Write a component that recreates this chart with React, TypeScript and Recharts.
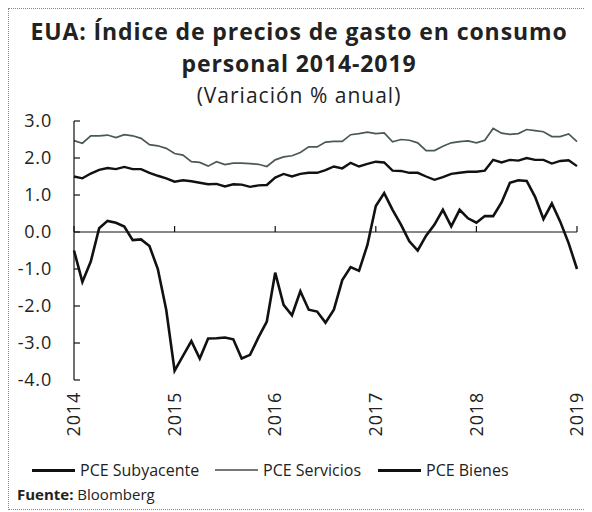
import { LineChart, Line, XAxis, YAxis, ReferenceLine } from "recharts";

const yearLabels = ["2014", "2015", "2016", "2017", "2018", "2019"];
const yearTicks = [0, 12, 24, 36, 48, 60];
const yTicks = [3, 2, 1, 0, -1, -2, -3, -4];

// monthly, Jan-2014 .. Jan-2019
const subyacente = [
  1.5, 1.45, 1.58, 1.68, 1.73, 1.7, 1.76, 1.7, 1.7, 1.6,
  1.52, 1.45, 1.36, 1.4, 1.37, 1.33, 1.29, 1.3, 1.23, 1.29,
  1.28, 1.22, 1.26, 1.27, 1.47, 1.57, 1.5, 1.57, 1.6, 1.6,
  1.67, 1.77, 1.72, 1.87, 1.77, 1.84, 1.9, 1.88, 1.66, 1.65,
  1.6, 1.6, 1.5, 1.41, 1.48, 1.57, 1.6, 1.63, 1.63, 1.66,
  1.95, 1.88, 1.95, 1.93, 2.0, 1.95, 1.95, 1.85, 1.92, 1.94,
  1.78,
];

const servicios = [
  2.47, 2.4, 2.6, 2.6, 2.62, 2.55, 2.63, 2.6, 2.53, 2.36,
  2.33, 2.26, 2.12, 2.08, 1.9, 1.88, 1.78, 1.9, 1.82, 1.86,
  1.86, 1.85, 1.83, 1.77, 1.95, 2.03, 2.06, 2.15, 2.3, 2.3,
  2.43, 2.45, 2.45, 2.63, 2.66, 2.7, 2.66, 2.68, 2.44, 2.5,
  2.48, 2.41, 2.2, 2.2, 2.32, 2.41, 2.44, 2.46, 2.41, 2.48,
  2.8, 2.67, 2.64, 2.66, 2.77, 2.74, 2.71, 2.58, 2.58, 2.65,
  2.44,
];

const bienes = [
  -0.5, -1.35, -0.8, 0.1, 0.3, 0.25, 0.15, -0.22, -0.2, -0.38,
  -1.0, -2.1, -3.75, -3.35, -2.95, -3.42, -2.88, -2.87, -2.85, -2.9,
  -3.42, -3.32, -2.85, -2.42, -1.1, -1.97, -2.25, -1.6, -2.1, -2.15,
  -2.45, -2.1, -1.3, -0.95, -1.05, -0.35, 0.7, 1.05, 0.6, 0.2,
  -0.25, -0.5, -0.1, 0.2, 0.6, 0.15, 0.6, 0.37, 0.25, 0.43,
  0.43, 0.8, 1.33, 1.4, 1.38, 0.95, 0.35, 0.77, 0.28, -0.3,
  -1.0,
];

const data = subyacente.map((v, i) => ({
  m: i,
  subyacente: v,
  servicios: servicios[i],
  bienes: bienes[i],
}));

const FONT = "'Open Sans', sans-serif";
const INK = "#222";

const YTick = (props: any) => {
  const { x, y, payload } = props;
  return (
    <g>
      <line x1={x + 22} x2={x + 28} y1={y} y2={y} stroke="#111" strokeWidth={1.2} />
      <text
        x={x}
        y={y}
        dy="0.35em"
        textAnchor="end"
        fontSize={18}
        letterSpacing={0.8}
        fill={INK}
        fontFamily={FONT}
      >
        {payload.value.toFixed(1)}
      </text>
    </g>
  );
};

const XTick = (props: any) => {
  const { x, y, payload } = props;
  const label = yearLabels[yearTicks.indexOf(payload.value)];
  return (
    <text
      x={x}
      y={y}
      dy="0.35em"
      textAnchor="end"
      transform={`rotate(-90, ${x}, ${y})`}
      fontSize={18}
      letterSpacing={0.8}
      fill={INK}
      fontFamily={FONT}
    >
      {label}
    </text>
  );
};

const legend = [
  { name: "PCE Subyacente", color: "#111", width: 3, left: 23 },
  { name: "PCE Servicios", color: "#777", width: 2, left: 206 },
  { name: "PCE Bienes", color: "#111", width: 3, left: 369 },
];

export default function App() {
  return (
    <div
      style={{
        position: "relative",
        width: 582,
        height: 502,
        boxSizing: "border-box",
        border: "1px dotted #888",
        background: "#fff",
        fontFamily: FONT,
        color: INK,
      }}
    >
      <div
        style={{
          position: "absolute",
          top: 6,
          left: 0,
          width: "100%",
          textAlign: "center",
          fontSize: 23,
          fontWeight: 700,
          letterSpacing: 0.9,
          lineHeight: "32px",
        }}
      >
        EUA: Índice de precios de gasto en consumo
        <br />
        personal 2014-2019
      </div>
      <div
        style={{
          position: "absolute",
          top: 72,
          left: 0,
          width: "100%",
          textAlign: "center",
          fontSize: 21,
          letterSpacing: 1,
          lineHeight: "28px",
        }}
      >
        (Variación % anual)
      </div>

      <div style={{ position: "absolute", top: 100, left: 0 }}>
        <LineChart width={580} height={350} data={data} margin={{ top: 12, right: 12, bottom: 0, left: 0 }}>
          <XAxis
            dataKey="m"
            type="number"
            domain={[0, 60]}
            ticks={yearTicks}
            axisLine={false}
            tickLine={false}
            tickSize={6}
            tickMargin={6}
            height={79}
            interval={0}
            tick={<XTick />}
          />
          <YAxis
            type="number"
            domain={[-4, 3]}
            ticks={yTicks}
            width={65}
            axisLine={{ stroke: "#111", strokeWidth: 1.2 }}
            tickLine={false}
            tickSize={6}
            tickMargin={16}
            interval={0}
            tick={<YTick />}
          />
          <ReferenceLine y={0} stroke="#111" strokeWidth={1.2} />
          {yearTicks.map((t) => (
            <ReferenceLine
              key={t}
              segment={[
                { x: t, y: 0 },
                { x: t, y: 0.16 },
              ]}
              stroke="#111"
              strokeWidth={1.2}
            />
          ))}
          <Line
            type="linear"
            dataKey="servicios"
            stroke="#4a5a51"
            strokeWidth={1.7}
            dot={false}
            isAnimationActive={false}
          />
          <Line
            type="linear"
            dataKey="subyacente"
            stroke="#111"
            strokeWidth={2.4}
            dot={false}
            isAnimationActive={false}
          />
          <Line
            type="linear"
            dataKey="bienes"
            stroke="#111"
            strokeWidth={2.6}
            dot={false}
            isAnimationActive={false}
          />
        </LineChart>
      </div>

      {legend.map((l) => (
        <div
          key={l.name}
          style={{
            position: "absolute",
            top: 448,
            left: l.left,
            height: 26,
            display: "flex",
            alignItems: "center",
            fontSize: 16,
            whiteSpace: "nowrap",
          }}
        >
          <span style={{ display: "inline-block", width: 43, height: l.width, background: l.color, marginRight: 5 }} />
          {l.name}
        </div>
      ))}

      <div style={{ position: "absolute", top: 475, left: 8, fontSize: 15, lineHeight: "20px" }}>
        <b>Fuente:</b> Bloomberg
      </div>
    </div>
  );
}
